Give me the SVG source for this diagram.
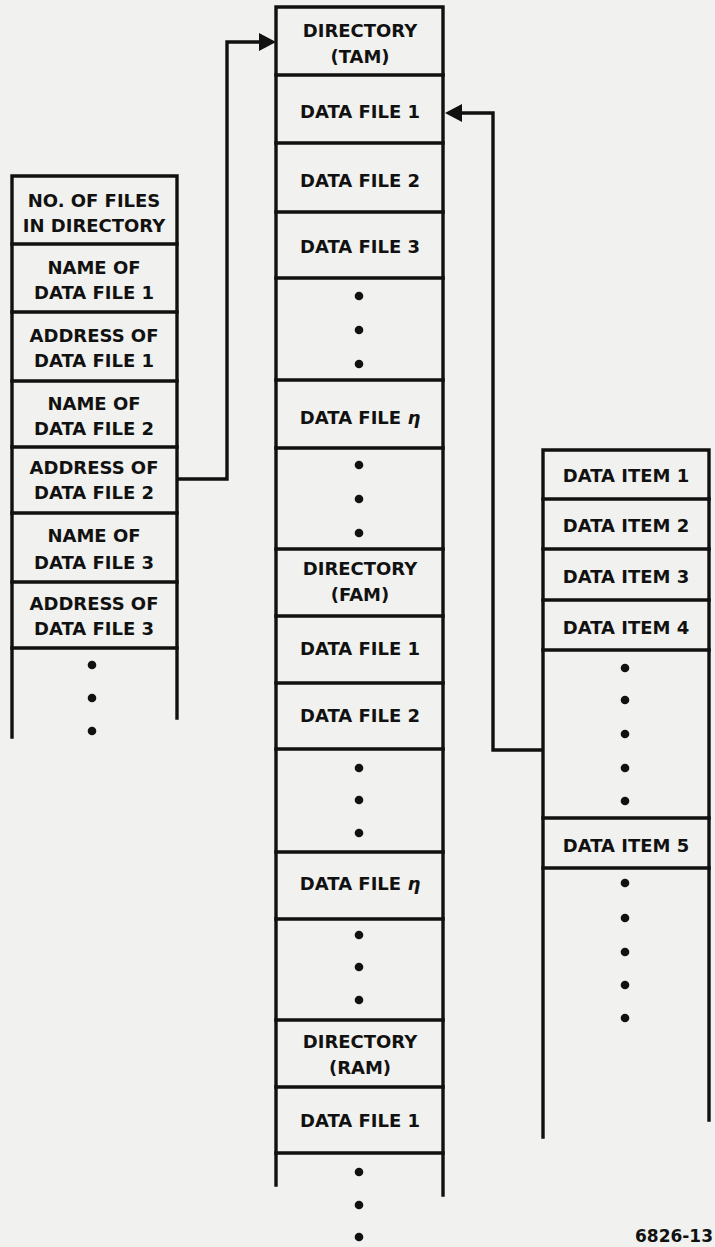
<svg xmlns="http://www.w3.org/2000/svg" width="715" height="1247" viewBox="0 0 715 1247">
<defs>
<style>
.bg{fill:#f1f1ef}
.ln{fill:none;stroke:#111;stroke-width:3.4;stroke-linecap:square}
.t{font-family:"DejaVu Sans","Liberation Sans",sans-serif;font-weight:bold;font-size:18px;fill:#111;text-anchor:middle}
.tl{font-family:"DejaVu Sans","Liberation Sans",sans-serif;font-weight:bold;font-size:17px;fill:#111;text-anchor:end}
.d{fill:#111}
.ah{fill:#111}
</style>
</defs>
<rect class="bg" x="0" y="0" width="715" height="1247"/>

<!-- Left column: directory contents -->
<g id="dir-contents">
  <path class="ln" d="M12,737 V176 H177 V718"/>
  <path class="ln" d="M12,244 H177 M12,312 H177 M12,381 H177 M12,447 H177 M12,513 H177 M12,582 H177 M12,648 H177"/>
  <g id="lc-count"><text class="t" x="94" y="207">NO. OF FILES</text><text class="t" x="94" y="232">IN DIRECTORY</text></g>
  <g id="lc-name1"><text class="t" x="94" y="274">NAME OF</text><text class="t" x="94" y="299">DATA FILE 1</text></g>
  <g id="lc-addr1"><text class="t" x="94" y="342">ADDRESS OF</text><text class="t" x="94" y="367">DATA FILE 1</text></g>
  <g id="lc-name2"><text class="t" x="94" y="410">NAME OF</text><text class="t" x="94" y="435">DATA FILE 2</text></g>
  <g id="lc-addr2"><text class="t" x="94" y="474">ADDRESS OF</text><text class="t" x="94" y="499">DATA FILE 2</text></g>
  <g id="lc-name3"><text class="t" x="94" y="542">NAME OF</text><text class="t" x="94" y="569">DATA FILE 3</text></g>
  <g id="lc-addr3"><text class="t" x="94" y="610">ADDRESS OF</text><text class="t" x="94" y="635">DATA FILE 3</text></g>
  <g id="lc-more"><circle class="d" cx="92" cy="665" r="4.3"/><circle class="d" cx="92" cy="698" r="4.3"/><circle class="d" cx="92" cy="731" r="4.3"/></g>
</g>

<!-- Middle column: memory areas -->
<g id="memory">
  <path class="ln" d="M276,1185 V7 H443 V1195"/>
  <path class="ln" d="M276,75 H443 M276,143 H443 M276,212 H443 M276,278 H443 M276,380 H443 M276,448 H443 M276,549 H443 M276,616 H443 M276,683 H443 M276,749 H443 M276,852 H443 M276,919 H443 M276,1020 H443 M276,1087 H443 M276,1153 H443"/>
  <g id="mc-dir-tam"><text class="t" x="360" y="37">DIRECTORY</text><text class="t" x="360" y="63">(TAM)</text></g>
  <g id="mc-tam-f1"><text class="t" x="360" y="118">DATA FILE 1</text></g>
  <g id="mc-tam-f2"><text class="t" x="360" y="187">DATA FILE 2</text></g>
  <g id="mc-tam-f3"><text class="t" x="360" y="253">DATA FILE 3</text></g>
  <g id="mc-tam-more"><circle class="d" cx="359" cy="296" r="4.3"/><circle class="d" cx="359" cy="330" r="4.3"/><circle class="d" cx="359" cy="364" r="4.3"/></g>
  <g id="mc-tam-fn"><text class="t" x="360" y="424">DATA FILE <tspan font-style="italic">η</tspan></text></g>
  <g id="mc-tam-rest"><circle class="d" cx="359" cy="465" r="4.3"/><circle class="d" cx="359" cy="499" r="4.3"/><circle class="d" cx="359" cy="533" r="4.3"/></g>
  <g id="mc-dir-fam"><text class="t" x="360" y="575">DIRECTORY</text><text class="t" x="360" y="601">(FAM)</text></g>
  <g id="mc-fam-f1"><text class="t" x="360" y="655">DATA FILE 1</text></g>
  <g id="mc-fam-f2"><text class="t" x="360" y="722">DATA FILE 2</text></g>
  <g id="mc-fam-more"><circle class="d" cx="359" cy="768" r="4.3"/><circle class="d" cx="359" cy="800" r="4.3"/><circle class="d" cx="359" cy="833" r="4.3"/></g>
  <g id="mc-fam-fn"><text class="t" x="360" y="890">DATA FILE <tspan font-style="italic">η</tspan></text></g>
  <g id="mc-fam-rest"><circle class="d" cx="359" cy="935" r="4.3"/><circle class="d" cx="359" cy="967" r="4.3"/><circle class="d" cx="359" cy="1000" r="4.3"/></g>
  <g id="mc-dir-ram"><text class="t" x="360" y="1048">DIRECTORY</text><text class="t" x="360" y="1074">(RAM)</text></g>
  <g id="mc-ram-f1"><text class="t" x="360" y="1127">DATA FILE 1</text></g>
  <g id="mc-ram-more"><circle class="d" cx="359" cy="1172" r="4.3"/><circle class="d" cx="359" cy="1205" r="4.3"/><circle class="d" cx="359" cy="1237" r="4.3"/></g>
</g>

<!-- Right column: data items -->
<g id="data-items">
  <path class="ln" d="M543,1137 V450 H709 V1120"/>
  <path class="ln" d="M543,499 H709 M543,549 H709 M543,600 H709 M543,650 H709 M543,818 H709 M543,868 H709"/>
  <g id="rc-item1"><text class="t" x="626" y="482">DATA ITEM 1</text></g>
  <g id="rc-item2"><text class="t" x="626" y="532">DATA ITEM 2</text></g>
  <g id="rc-item3"><text class="t" x="626" y="583">DATA ITEM 3</text></g>
  <g id="rc-item4"><text class="t" x="626" y="634">DATA ITEM 4</text></g>
  <g id="rc-more1"><circle class="d" cx="625" cy="668" r="4.3"/><circle class="d" cx="625" cy="700" r="4.3"/><circle class="d" cx="625" cy="734" r="4.3"/><circle class="d" cx="625" cy="768" r="4.3"/><circle class="d" cx="625" cy="801" r="4.3"/></g>
  <g id="rc-item5"><text class="t" x="626" y="852">DATA ITEM 5</text></g>
  <g id="rc-more2"><circle class="d" cx="625" cy="883" r="4.3"/><circle class="d" cx="625" cy="918" r="4.3"/><circle class="d" cx="625" cy="952" r="4.3"/><circle class="d" cx="625" cy="985" r="4.3"/><circle class="d" cx="625" cy="1018" r="4.3"/></g>
</g>

<!-- Connectors -->
<g id="connectors">
  <path class="ln" d="M178,479 H227 V42 H262"/>
  <polygon class="ah" points="276,42 259,33 259,51"/>
  <path class="ln" d="M542,750 H493 V113 H460"/>
  <polygon class="ah" points="445,113 462,104 462,122"/>
</g>

<g id="figure-label"><text class="tl" x="713" y="1242">6826-13</text></g>
</svg>
